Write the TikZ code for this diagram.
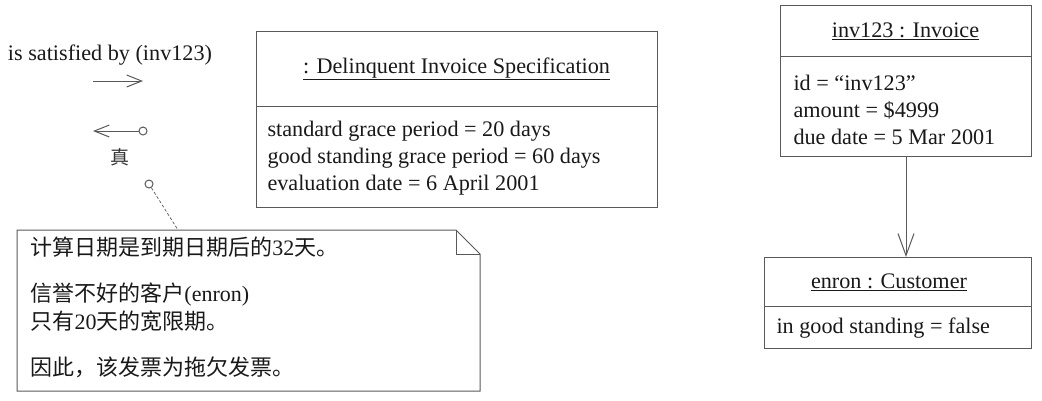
\documentclass[tikz,border=0pt]{standalone}
\usepackage{fontspec}
\setmainfont{Liberation Serif}
\newfontfamily\cjk{Noto Sans CJK SC}
\usetikzlibrary{arrows.meta}
\begin{document}
\begin{tikzpicture}[x=1pt,y=-1pt,
  line width=1pt,
  lc/.style={draw=black!65},
  box/.style={lc, rectangle, inner sep=0pt, anchor=north west},
  txt/.style={inner sep=0pt, anchor=west, font=\fontsize{22.2}{27}\selectfont, text=black!90},
  ttl/.style={inner sep=0pt, font=\fontsize{22.2}{27}\selectfont, text=black!90},
  cjkt/.style={inner sep=0pt, anchor=west, font=\fontsize{22}{27}\selectfont, text=black!90},
  openarr/.style={lc, -{Straight Barb[length=15pt,width=12pt]}},
  bigarr/.style={lc, -{Straight Barb[length=22pt,width=16pt]}},
  lolli/.style={lc, circle, minimum size=8pt, inner sep=0pt, fill=white}
]
\useasboundingbox (0,0) rectangle (1042,400);

% left labels and arrows
\node[ttl] (lab) at (110,55) {is satisfied by (inv123)};
\coordinate (a1s) at (93,81);
\coordinate (a1e) at (143,81);
\draw[openarr] (a1s) -- (a1e);
\node[lolli] (c1) at (143,131) {};
\coordinate (a2e) at (93,131);
\draw[openarr] (c1) -- (a2e);
\node[ttl, font=\fontsize{19}{24}\cjk, text=black!80] (zhen) at (120,157) {真};

% specification box
\node[box, minimum width=401pt, minimum height=176pt] (spec) at (256,31) {};
\draw[lc] (256,106) -- (657,106);
\node[ttl] (spect) at (456.5,69) {\underline{: Delinquent Invoice Specification}};
\node[txt] (s1) at (267,131) {standard grace period = 20 days};
\node[txt] (s2) at (267,158) {good standing grace period = 60 days};
\node[txt] (s3) at (267,185) {evaluation date = 6 April 2001};

% note
\coordinate (nA) at (17,230);
\coordinate (nB) at (456,230);
\coordinate (nC) at (480,254);
\coordinate (nD) at (480,391);
\coordinate (nE) at (17,391);
\coordinate (nF) at (456,254);
\draw[lc, line join=miter] (nA) -- (nB) -- (nC) -- (nD) -- (nE) -- cycle;
\draw[lc] (nB) -- (nF) -- (nC);
\node[lolli] (c2) at (149,184) {};
\coordinate (ntop) at (178,230);
\draw[lc, dashed, line width=0.7pt, dash pattern=on 3pt off 2pt] (c2) -- (ntop);
\node[cjkt] (n1) at (30,247) {{\cjk 计算日期是到期日期后的}32{\cjk 天。}};
\node[cjkt] (n2) at (30,294) {{\cjk 信誉不好的客户}(enron)};
\node[cjkt] (n3) at (30,321) {{\cjk 只有}20{\cjk 天的宽限期。}};
\node[cjkt] (n4) at (30,367) {{\cjk 因此，该发票为拖欠发票。}};

% invoice box
\node[box, minimum width=251pt, minimum height=151pt] (inv) at (780,5) {};
\draw[lc] (780,56) -- (1031,56);
\node[ttl] (invt) at (905.5,31) {\underline{inv123 : Invoice}};
\node[txt] (i1) at (793,83) {id = “inv123”};
\node[txt] (i2) at (793,110) {amount = \$4999};
\node[txt] (i3) at (793,137) {due date = 5 Mar 2001};

% customer box
\node[box, minimum width=267pt, minimum height=91pt] (cust) at (764,257) {};
\draw[lc] (764,306) -- (1031,306);
\node[ttl] (custt) at (889,282) {\underline{enron : Customer}};
\node[txt] (cu1) at (776,328) {in good standing = false};

\draw[bigarr] (inv.south -| 906,0) -- (cust.north -| 906,0);
\end{tikzpicture}
\end{document}
